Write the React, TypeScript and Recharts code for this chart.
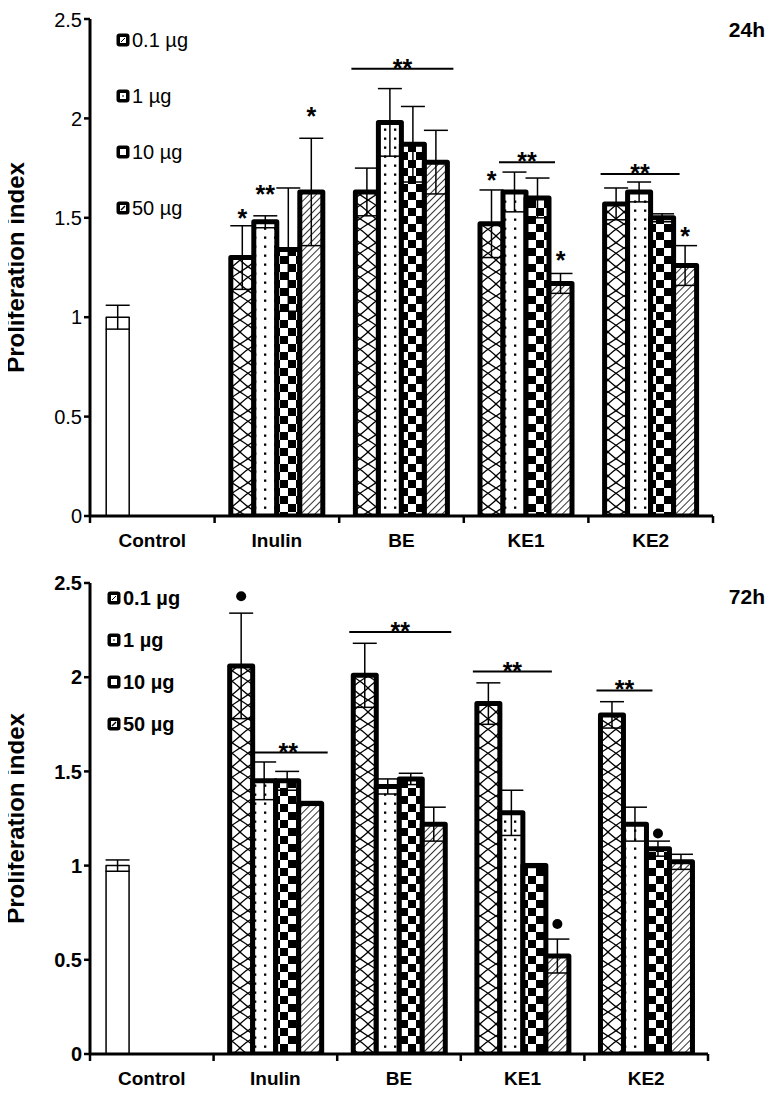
import React from 'react';
import { BarChart, Bar, XAxis, YAxis, ErrorBar, LabelList, Legend, Cell, Label } from 'recharts';

const categories = ['Control', 'Inulin', 'BE', 'KE1', 'KE2'];
const doses = ['0.1 µg', '1 µg', '10 µg', '50 µg'];
const yTicks = [0, 0.5, 1, 1.5, 2, 2.5];

// 24h
const d01_24 = [1.0, 1.3, 1.63, 1.47, 1.57];
const d1_24 = [null, 1.48, 1.98, 1.63, 1.63];
const d10_24 = [null, 1.34, 1.87, 1.6, 1.5];
const d50_24 = [null, 1.63, 1.78, 1.17, 1.26];
const e01_24 = [0.06, 0.16, 0.12, 0.17, 0.08];
const e1_24 = [null, 0.03, 0.17, 0.1, 0.05];
const e10_24 = [null, 0.31, 0.19, 0.1, 0.02];
const e50_24 = [null, 0.27, 0.16, 0.05, 0.1];

// 72h
const d01_72 = [1.0, 2.06, 2.01, 1.86, 1.8];
const d1_72 = [null, 1.45, 1.42, 1.28, 1.22];
const d10_72 = [null, 1.45, 1.46, 1.0, 1.09];
const d50_72 = [null, 1.33, 1.22, 0.52, 1.02];
const e01_72 = [0.03, 0.28, 0.17, 0.11, 0.07];
const e1_72 = [null, 0.1, 0.04, 0.12, 0.09];
const e10_72 = [null, 0.05, 0.03, 0.01, 0.04];
const e50_72 = [null, 0.01, 0.09, 0.09, 0.04];

type Mark = { cat: string; dose: number; text: string; y: number };
type Bracket = { cat: string; from: number; to: number; y: number };

// significance marks (y = level of the mark centre)
const marks24: Mark[] = [
  { cat: 'Inulin', dose: 0, text: '*', y: 1.52 },
  { cat: 'Inulin', dose: 1, text: '**', y: 1.64 },
  { cat: 'Inulin', dose: 3, text: '*', y: 2.03 },
  { cat: 'KE1', dose: 0, text: '*', y: 1.71 },
  { cat: 'KE1', dose: 3, text: '*', y: 1.31 },
  { cat: 'KE2', dose: 3, text: '*', y: 1.43 },
];
const brackets24: Bracket[] = [
  { cat: 'BE', from: 0, to: 3, y: 2.25 },
  { cat: 'KE1', from: 1, to: 2, y: 1.78 },
  { cat: 'KE2', from: 0, to: 2, y: 1.72 },
];
const marks72: Mark[] = [
  { cat: 'Inulin', dose: 0, text: '•', y: 2.43 },
  { cat: 'KE1', dose: 3, text: '•', y: 0.69 },
  { cat: 'KE2', dose: 2, text: '•', y: 1.17 },
];
const brackets72: Bracket[] = [
  { cat: 'Inulin', from: 1, to: 3, y: 1.6 },
  { cat: 'BE', from: 0, to: 3, y: 2.24 },
  { cat: 'KE1', from: 0, to: 2, y: 2.03 },
  { cat: 'KE2', from: 0, to: 1, y: 1.93 },
];

const makeRows = (d: any[][], e: any[][]) =>
  categories.map((cat, i) => ({
    cat,
    s0: d[0][i], s1: d[1][i], s2: d[2][i], s3: d[3][i],
    e0: e[0][i], e1: e[1][i], e2: e[2][i], e3: e[3][i],
  }));

const rows24 = makeRows([d01_24, d1_24, d10_24, d50_24], [e01_24, e1_24, e10_24, e50_24]);
const rows72 = makeRows([d01_72, d1_72, d10_72, d50_72], [e01_72, e1_72, e10_72, e50_72]);

const FONT = '"Liberation Sans", Arial, Helvetica, sans-serif';
const fills = ['url(#pWave)', 'url(#pDots)', 'url(#pCheck)', 'url(#pHatch)'];
const W = 765;

const Patterns = () => (
  <svg width={0} height={0} style={{ position: 'absolute' }}>
    <defs>
      <pattern id="pWave" width={16} height={24} patternUnits="userSpaceOnUse">
        <rect width={16} height={24} fill="#fff" />
        <path d="M0 0 Q10 6 16 12 Q10 18 0 24 M16 0 Q6 6 0 12 Q6 18 16 24" fill="none" stroke="#000" strokeWidth={1.3} />
      </pattern>
      <pattern id="pDots" width={10} height={9} patternUnits="userSpaceOnUse">
        <rect width={10} height={9} fill="#fff" />
        <rect x={4} y={3.5} width={2.3} height={2.3} fill="#000" />
      </pattern>
      <pattern id="pCheck" width={16} height={16} patternUnits="userSpaceOnUse">
        <rect width={16} height={16} fill="#fff" />
        <rect width={8} height={8} fill="#000" />
        <rect x={8} y={8} width={8} height={8} fill="#000" />
      </pattern>
      <pattern id="pHatch" width={5} height={5} patternUnits="userSpaceOnUse" patternTransform="rotate(45)">
        <rect width={5} height={5} fill="#fff" />
        <line x1={0} y1={0} x2={0} y2={5} stroke="#000" strokeWidth={1.6} />
      </pattern>
    </defs>
  </svg>
);

const renderMarks = (dose: number, rows: any[], marks: Mark[], brackets: Bracket[]) => {
  // LabelList skips entries without a value, so its index runs over the drawn bars only
  const drawn = rows.filter((r) => r['s' + dose] != null);
  return (props: any) => {
    const vb = props.viewBox || props;
    const { x, y, width, height } = vb;
    const row = props.payload && props.payload.cat ? props.payload : drawn[props.index];
    if (!row) return null;
    const val = row['s' + dose];
    if (val == null || !height) return null;
    const unit = height / val;
    const base = y + height;
    const cx = x + width / 2;
    const out: any[] = [];
    marks
      .filter((m) => m.dose === dose && m.cat === row.cat)
      .forEach((m, k) => {
        const cy = base - m.y * unit;
        if (m.text === '•') {
          out.push(<circle key={'d' + k} cx={cx} cy={cy} r={5} fill="#000" />);
        } else {
          out.push(
            <text key={'s' + k} x={cx} y={cy + 13} textAnchor="middle" fontSize={25} fontWeight="bold" fontFamily={FONT} fill="#000">
              {m.text}
            </text>
          );
        }
      });
    if (dose === 0) {
      brackets
        .filter((b) => b.cat === row.cat)
        .forEach((b, k) => {
          const ly = base - b.y * unit;
          const x0 = x + b.from * width - 4;
          const x1 = x + (b.to + 1) * width + 6;
          out.push(
            <g key={'b' + k}>
              <line x1={x0} x2={x1} y1={ly} y2={ly} stroke="#000" strokeWidth={2} />
              <text x={(x0 + x1) / 2} y={ly + 8} textAnchor="middle" fontSize={25} fontWeight="bold" fontFamily={FONT} fill="#000">
                **
              </text>
            </g>
          );
        });
    }
    return <g>{out}</g>;
  };
};

const XTick = (props: any) => {
  const { x, y, payload, width, index } = props;
  const band = width / categories.length;
  const left = x - band / 2;
  return (
    <g>
      <line x1={left} x2={left} y1={y} y2={y + 7} stroke="#000" strokeWidth={2.5} />
      {index === categories.length - 1 && (
        <line x1={x + band / 2} x2={x + band / 2} y1={y} y2={y + 7} stroke="#000" strokeWidth={2.5} />
      )}
      <text x={x} y={y + 24} dy="0.35em" textAnchor="middle" fontSize={19} fontWeight="bold" fontFamily={FONT} fill="#000">
        {payload.value}
      </text>
    </g>
  );
};

const LegendIcon = ({ i }: { i: number }) => (
  <svg width={14} height={14} style={{ marginRight: 2, flex: 'none' }}>
    <rect x={0.5} y={0.5} width={13} height={13} rx={3} fill="#000" />
    <rect x={4} y={4} width={6} height={6} fill="#fff" />
    {i === 0 && <line x1={5} y1={9} x2={9} y2={5} stroke="#000" strokeWidth={1} />}
    {i === 1 && <rect x={6.3} y={6.3} width={1.4} height={1.4} fill="#000" />}
    {i === 3 && <line x1={5} y1={9} x2={9} y2={5} stroke="#000" strokeWidth={1.5} />}
  </svg>
);

const LegendBox = ({ bold, gap }: { bold: boolean; gap: number }) => (
  <div style={{ display: 'flex', flexDirection: 'column', gap, fontFamily: FONT }}>
    {doses.map((d, i) => (
      <div key={d} style={{ display: 'flex', alignItems: 'center', height: 24, fontSize: 20, fontWeight: bold ? 'bold' : 'normal', color: '#000', whiteSpace: 'nowrap' }}>
        <LegendIcon i={i} />
        <span>{d}</span>
      </div>
    ))}
  </div>
);

type PanelProps = {
  rows: any[];
  marks: Mark[];
  brackets: Bracket[];
  title: string;
  bold: boolean;
  height: number;
  marginTop: number;
  marginRight: number;
  titleTop: number;
  legendTop: number;
  legendLeft: number;
  legendGap: number;
};

function Panel(p: PanelProps) {
  return (
    <div style={{ position: 'relative', width: W, height: p.height }}>
      <BarChart
        width={W}
        height={p.height}
        data={p.rows}
        margin={{ top: p.marginTop, right: p.marginRight, left: 0, bottom: 0 }}
        barCategoryGap="13%"
        barGap={0}
      >
        <XAxis
          dataKey="cat"
          height={40}
          axisLine={{ stroke: '#000', strokeWidth: 3 }}
          tickLine={false}
          tickSize={0}
          tickMargin={0}
          tick={<XTick />}
          interval={0}
        />
        <YAxis
          width={90}
          domain={[0, 2.5]}
          ticks={yTicks}
          allowDataOverflow
          axisLine={{ stroke: '#000', strokeWidth: 3 }}
          tickLine={{ stroke: '#000', strokeWidth: 2.5 }}
          tickSize={6}
          tick={{ fill: '#000', fontSize: 20, fontFamily: FONT, fontWeight: p.bold ? 'bold' : 'normal' }}
        >
          <Label
            content={(lp: any) => {
              const vb = lp.viewBox;
              const cx = vb.x + 15;
              const cy = vb.y + vb.height / 2;
              return (
                <text
                  x={cx}
                  y={cy}
                  transform={`rotate(-90 ${cx} ${cy})`}
                  textAnchor="middle"
                  dominantBaseline="central"
                  fontSize={24}
                  fontWeight="bold"
                  fontFamily={FONT}
                  fill="#000"
                >
                  Proliferation index
                </text>
              );
            }}
          />
        </YAxis>
        <Legend
          layout="vertical"
          align="center"
          verticalAlign="middle"
          wrapperStyle={{ top: p.legendTop, left: p.legendLeft, width: 'auto' }}
          content={() => <LegendBox bold={p.bold} gap={p.legendGap} />}
        />
        {[0, 1, 2, 3].map((k) => (
          <Bar
            key={k}
            dataKey={'s' + k}
            name={doses[k]}
            fill={fills[k]}
            stroke="#000"
            strokeWidth={5}
            strokeLinejoin="round"
            isAnimationActive={false}
          >
            {k === 0 &&
              p.rows.map((r, i) => (
                <Cell key={r.cat} fill={i === 0 ? '#fff' : fills[0]} strokeWidth={i === 0 ? 1.5 : 5} />
              ))}
            <ErrorBar dataKey={'e' + k} width={12} stroke="#000" strokeWidth={1.5} />
            <LabelList dataKey={'s' + k} content={renderMarks(k, p.rows, p.marks, p.brackets)} />
          </Bar>
        ))}
      </BarChart>
      <div
        style={{
          position: 'absolute',
          right: 0,
          top: p.titleTop,
          fontFamily: FONT,
          fontWeight: 'bold',
          fontSize: 21,
          lineHeight: '24px',
          color: '#000',
        }}
      >
        {p.title}
      </div>
    </div>
  );
}

export default function App() {
  return (
    <div style={{ width: W, marginLeft: -8 }}>
      <Patterns />
      <Panel
        rows={rows24}
        marks={marks24}
        brackets={brackets24}
        title="24h"
        bold={false}
        height={548}
        marginTop={11}
        marginRight={52}
        titleTop={10}
        legendTop={20}
        legendLeft={116}
        legendGap={32}
      />
      <Panel
        rows={rows72}
        marks={marks72}
        brackets={brackets72}
        title="72h"
        bold={true}
        height={538}
        marginTop={27}
        marginRight={57}
        titleTop={29}
        legendTop={30}
        legendLeft={107}
        legendGap={18}
      />
    </div>
  );
}
